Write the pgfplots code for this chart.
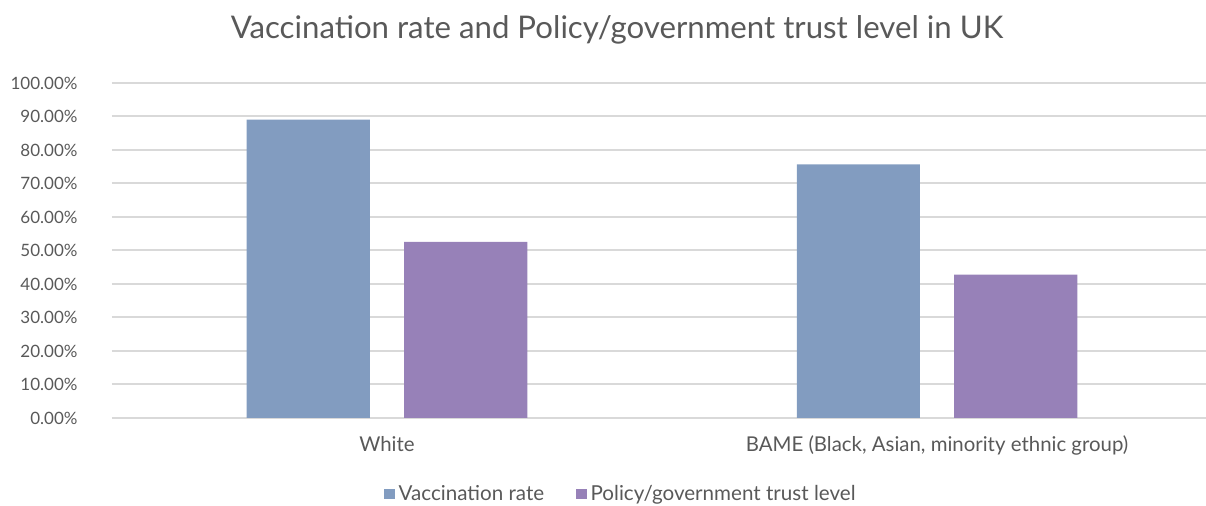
\documentclass[border=0pt]{standalone}
\usepackage{pgfplots}
\pgfplotsset{compat=1.18}
\usepackage{fontspec}
\setmainfont{Lato}
\definecolor{txt}{HTML}{595959}
\definecolor{vacc}{HTML}{829CC0}
\definecolor{trust}{HTML}{9781B8}
\definecolor{gridc}{HTML}{D9D9D9}
\begin{document}
\begin{tikzpicture}
\useasboundingbox (-56pt,-44pt) rectangle (547pt,209pt);
\begin{axis}[
  at={(0,0)}, anchor=south west,
  scale only axis, width=550pt, height=167.5pt,
  xmin=-0.5, xmax=1.5, ymin=0, ymax=100,
  axis line style={draw=none},
  ymajorgrids, grid style={gridc, line width=1pt},
  major tick length=0pt,
  ytick={0,10,...,100},
  yticklabels={0.00\%,10.00\%,20.00\%,30.00\%,40.00\%,50.00\%,60.00\%,70.00\%,80.00\%,90.00\%,100.00\%},
  xtick={0,1},
  xticklabels={{White}, {BAME (Black, Asian, minority ethnic group)}},
  ticklabel style={font=\fontsize{8.5}{10}\selectfont, text=txt},
  yticklabel style={anchor=east, xshift=-13.7pt},
  xticklabel style={anchor=north, yshift=-5.5pt, font=\fontsize{10.2}{12}\selectfont},
  ybar, bar width=0.224,
  legend columns=2,
  legend style={at={(0.4636,-0.227)}, anchor=center, draw=none, fill=none,
    font=\fontsize{10.3}{12}\selectfont, text=txt,
    /tikz/every even column/.append style={column sep=14pt}},
  legend image code/.code={\fill[#1] (0pt,-2.6pt) rectangle (5.2pt,2.6pt);},
]
\addplot[fill=vacc, draw=none, bar shift=-0.143] coordinates {(0,89.1) (1,75.7)};
\addplot[fill=trust, draw=none, bar shift=0.143] coordinates {(0,52.6) (1,42.8)};
\legend{Vaccination rate, Policy/government trust level}
\end{axis}
\node[text=txt, font=\fontsize{15.6}{19}\selectfont] at (252.5pt,194pt) {Vaccination rate and Policy/government trust level in UK};
\end{tikzpicture}
\end{document}
